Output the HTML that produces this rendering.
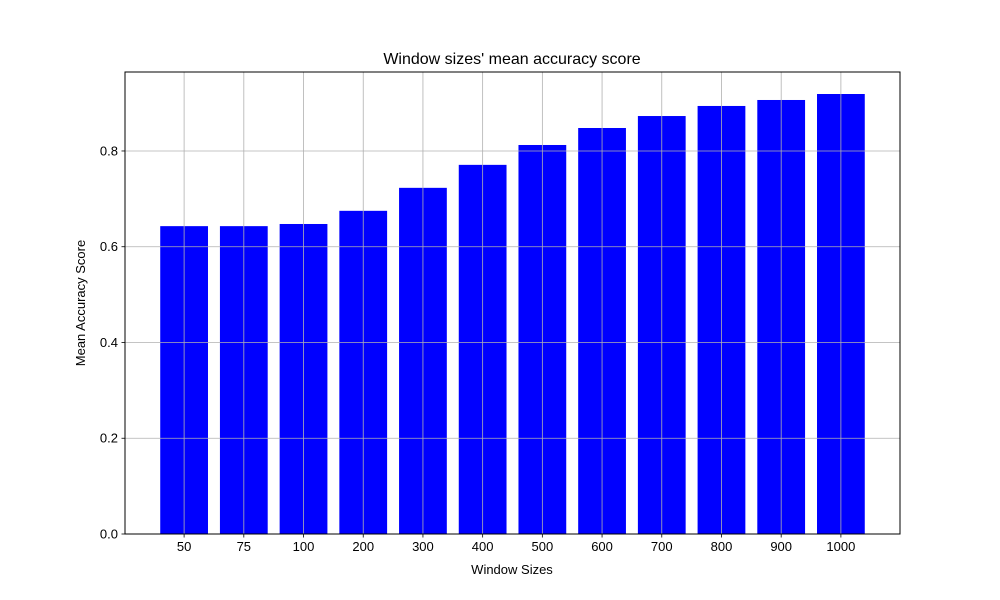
<!DOCTYPE html>
<html>
<head>
<meta charset="utf-8">
<style>
  body { margin: 0; background: #fff; }
  svg { display: block; font-family: "Liberation Sans", "DejaVu Sans", sans-serif; }
</style>
</head>
<body>
<svg id="chart" width="1000" height="600" viewBox="0 0 1000 600">
  <rect x="0" y="0" width="1000" height="600" fill="#fff"></rect>
  <g id="bars"></g>
  <g id="grid"></g>
  <rect x="125" y="72" width="775" height="462" fill="none" stroke="#000" stroke-width="1"></rect>
  <g id="ticks"></g>
  <text x="512" y="64" text-anchor="middle" font-size="16">Window sizes' mean accuracy score</text>
  <text x="512" y="574" text-anchor="middle" font-size="13">Window Sizes</text>
  <text x="85" y="303" text-anchor="middle" font-size="13" transform="rotate(-90 85 303)">Mean Accuracy Score</text>
</svg>
<script>
const categories = ["50","75","100","200","300","400","500","600","700","800","900","1000"];
const values = [0.643,0.643,0.6475,0.675,0.723,0.771,0.8125,0.848,0.873,0.894,0.9065,0.919];
const yTicks = [0.0,0.2,0.4,0.6,0.8];
const yTickLabels = ["0.0","0.2","0.4","0.6","0.8"];

const NS = "http://www.w3.org/2000/svg";
const L = 125, R = 900, T = 72, B = 534;
const n = categories.length;
const xMin = -0.4 - 0.05 * (n - 1 + 0.8), xMax = (n - 1) + 0.4 + 0.05 * (n - 1 + 0.8);
const maxV = Math.max(...values);
const yMax = maxV * 1.05;
function xs(v) { return L + (v - xMin) / (xMax - xMin) * (R - L); }
function ys(v) { return B - v / yMax * (B - T); }
function mk(tag, attrs, parent) {
  const e = document.createElementNS(NS, tag);
  for (const k in attrs) e.setAttribute(k, attrs[k]);
  parent.appendChild(e);
  return e;
}
const gb = document.getElementById("bars");
const gg = document.getElementById("grid");
const gt = document.getElementById("ticks");
values.forEach((v, i) => {
  const x0 = xs(i - 0.4), x1 = xs(i + 0.4);
  const r = mk("rect", {x: x0, y: ys(v), width: x1 - x0, height: ys(0) - ys(v), fill: "#0000ff"}, gb);
  
  
});
categories.forEach((c, i) => {
  const x = xs(i);
  const gl = mk("line", {x1: x, x2: x, y1: T, y2: B, stroke: "#b0b0b0", "stroke-width": 0.8}, gg);
  
  
  const tk = mk("line", {x1: x, x2: x, y1: B, y2: B + 3.5, stroke: "#000", "stroke-width": 0.8}, gt);
  
  
  const tx = mk("text", {x: x, y: B + 17, "text-anchor": "middle", "font-size": 13}, gt);
  tx.textContent = c;
  
  
});
yTicks.forEach((v, i) => {
  const y = ys(v);
  const gl = mk("line", {x1: L, x2: R, y1: y, y2: y, stroke: "#b0b0b0", "stroke-width": 0.8}, gg);
  
  
  const tk = mk("line", {x1: L - 3.5, x2: L, y1: y, y2: y, stroke: "#000", "stroke-width": 0.8}, gt);
  
  
  const tx = mk("text", {x: L - 7, y: y + 4.5, "text-anchor": "end", "font-size": 13}, gt);
  tx.textContent = yTickLabels[i];
  
  
});
</script>
</body>
</html>
